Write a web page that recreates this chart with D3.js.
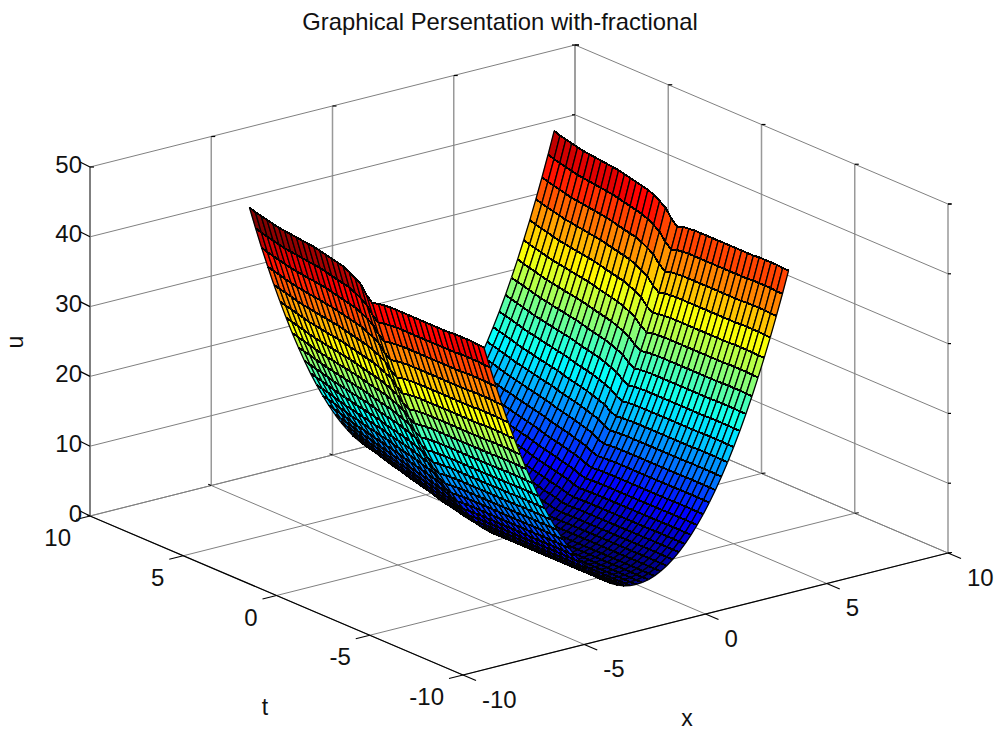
<!DOCTYPE html>
<html><head><meta charset="utf-8">
<script src="https://cdn.jsdelivr.net/npm/d3@7"></script>
<style>html,body{margin:0;background:#fff}text{font-family:"Liberation Sans",Arial,sans-serif;fill:#111}</style>
</head><body><svg id="c" width="1001" height="736"></svg>
<script>
// Tick labels
const xTicks=[-10,-5,0,5,10], tTicks=[-10,-5,0,5,10], zTicks=[0,10,20,30,40,50];
// Sample positions of the surface
const xLines=[-6.283,-6.032,-5.781,-5.529,-5.278,-5.027,-4.775,-4.524,-4.273,-4.021,-3.770,-3.519,-3.267,-3.016,-2.765,-2.513,-2.262,-2.011,-1.759,-1.508,-1.257,-1.005,-0.754,-0.503,-0.251,0,0.251,0.503,0.754,1.005,1.257,1.508,1.759,2.011,2.262,2.513,2.765,3.016,3.267,3.519,3.770,4.021,4.273,4.524,4.775,5.027,5.278,5.529,5.781,6.032,6.283];
const tLines=[-6.283,-5.969,-5.655,-5.341,-5.027,-4.712,-4.398,-4.084,-3.770,-3.456,-3.142,-2.827,-2.513,-2.199,-1.885,-1.571,-1.257,-0.942,-0.628,-0.314,0,0.314,0.628,0.942,1.257,1.571,1.885,2.199,2.513,2.827,3.142,3.456,3.770,4.084,4.398,4.712,5.027,5.341,5.655,5.969,6.283];
// u read along the front edge (t = -2pi), one value per x line
const frontEdgeU=[39.48,36.38,33.42,30.57,27.85,25.27,22.80,20.47,18.26,16.17,14.21,12.38,10.67,9.10,7.64,6.32,5.12,4.04,3.09,2.27,1.58,1.01,0.57,0.25,0.06,0,0.06,0.25,0.57,1.01,1.58,2.27,3.09,4.04,5.12,6.32,7.64,9.10,10.67,12.38,14.21,16.17,18.26,20.47,22.80,25.27,27.85,30.57,33.42,36.38,39.48];
// Rise of u above the front edge, read along the two rims and along the valley floor, one value per t line
const rimRise=[0,0,0.1,0.1,0.1,0.1,0,0,0,0,0,0,0,0,0,0,0,-0.1,-0.2,-0.5,0.3,1.5,2.1,2.6,3.0,3.2,3.4,3.6,3.8,4.0,4.1,4.2,4.3,4.4,4.5,4.6,4.8,5.0,5.2,5.4,5.7];
const valleyRise=[0,0,0,0,0,0,0,0,0,0,0,0,0,0,0,0,0,0,0,0,0,0.1,0.2,0.3,0.5,0.7,0.9,1.1,1.4,1.7,1.9,2.2,2.4,2.7,3.0,3.2,3.5,3.8,4.1,4.3,4.5];
// Share of the rim rise seen on each x line (1 at the rims, 0 on the valley floor)
const rimShare=[1,.94,.88,.83,.77,.72,.66,.61,.56,.51,.46,.42,.38,.33,.29,.25,.22,.18,.15,.12,.09,.06,.04,.02,.01,0,.01,.02,.04,.06,.09,.12,.15,.18,.22,.25,.29,.33,.38,.42,.46,.51,.56,.61,.66,.72,.77,.83,.88,.94,1];
const title="Graphical Persentation with-fractional";

const U=xLines.map((_,i)=>tLines.map((_,j)=>frontEdgeU[i]+valleyRise[j]+rimShare[i]*(rimRise[j]-valleyRise[j])));

const svg=d3.select("#c");
const aS=d3.scaleLinear().domain([-10,10]).range([0,1]);
const bS=d3.scaleLinear().domain([-10,10]).range([0,1]);
const zS=d3.scaleLinear().domain([0,50]).range([0,349]);
const O={x:463,y:675}, XV={x:485,y:-122}, TV={x:-373,y:-159};
const P=(x,t,z)=>{const a=aS(x),b=bS(t);return [O.x+XV.x*a+TV.x*b, O.y+XV.y*a+TV.y*b-zS(z)];};
const depth=(x,t,z)=>352*aS(x)+458*bS(t)-2.43*z;
const seg=(g,p,q,c,w)=>g.append("path").attr("d",d3.line()([p,q])).attr("stroke",c).attr("stroke-width",w).attr("fill","none");

// Grid on floor and walls
const grid=svg.append("g");
const GC="#808080";
xTicks.forEach(x=>{seg(grid,P(x,-10,0),P(x,10,0),GC,1);seg(grid,P(x,10,0),P(x,10,50),x==-10?"#000":"#999",x==-10?1:1.5);});
tTicks.forEach(t=>{seg(grid,P(-10,t,0),P(10,t,0),GC,1);seg(grid,P(10,t,0),P(10,t,50),"#999",1.5);});
zTicks.forEach(z=>{seg(grid,P(-10,10,z),P(10,10,z),GC,1);seg(grid,P(10,10,z),P(10,-10,z),GC,1);});

// Axes
const ax=svg.append("g");
seg(ax,P(-10,10,0),P(-10,-10,0),"#000",1.2);
seg(ax,P(-10,-10,0),P(10,-10,0),"#000",1.2);
const tick=(p,dx,dy)=>seg(ax,p,[p[0]+dx,p[1]+dy],"#000",1.2);
xTicks.forEach(x=>{tick(P(x,-10,0),13,5.5);tick(P(x,10,0),-3,-1.2);tick(P(x,10,50),4,0);});
tTicks.forEach(t=>{tick(P(-10,t,0),-14,3.5);tick(P(10,t,0),4,-.5);tick(P(10,t,50),4,0);});
zTicks.forEach(z=>{tick(P(-10,10,z),-10,-5);tick(P(10,-10,z),3,0);tick(P(10,10,z),-3,0);});

// Surface, far cells first
const umax=d3.max(U.flat());
const jet=d3.scaleLinear().domain([0,.125,.375,.625,.875,1]).range(["#000080","#0000ff","#00ffff","#ffff00","#ff0000","#800000"]);
const color=u=>jet(Math.min(63,Math.floor(u/umax*64))/63);
const cells=[];
for(let i=0;i<xLines.length-1;i++)for(let j=0;j<tLines.length-1;j++){
  const z=(U[i][j]+U[i+1][j]+U[i][j+1]+U[i+1][j+1])/4;
  cells.push({i,j,d:depth((xLines[i]+xLines[i+1])/2,(tLines[j]+tLines[j+1])/2,z)});
}
cells.sort((a,b)=>b.d-a.d);
const surf=svg.append("g");
const pt=(i,j)=>P(xLines[i],tLines[j],U[i][j]);
const ln=d3.line();
cells.forEach(({i,j})=>{
  const a=pt(i,j),b=pt(i+1,j),c=pt(i+1,j+1),d=pt(i,j+1);
  surf.append("path").attr("d",ln([a,b,c,d])+"Z").attr("fill",color(U[i][j])).attr("stroke",color(U[i][j])).attr("stroke-width",.3);
  surf.append("path").attr("d",ln([a,b])+ln([d,c])).attr("fill","none").attr("stroke","#000").attr("stroke-width",1.3);
  surf.append("path").attr("d",ln([a,d])+ln([b,c])).attr("fill","none").attr("stroke","#000").attr("stroke-width",2).attr("shape-rendering","crispEdges");
});

// Text
const label=(x,y,s,anchor,size=24)=>svg.append("text").attr("x",x).attr("y",y).attr("text-anchor",anchor).attr("dominant-baseline","central").attr("font-size",size).text(s);
zTicks.forEach(z=>{const p=P(-10,10,z);label(p[0]-8,p[1]-3,z,"end");});
tTicks.forEach(t=>{const p=P(-10,t,0);label(p[0]-19,p[1]+21.5,t,"end");});
xTicks.forEach(x=>{const p=P(x,-10,0);label(p[0]+19,p[1]+24,x,"start");});
label(500,21,title,"middle",23.8);
label(687,718,"x","middle",23);
label(265,707,"t","middle",23);
svg.append("text").attr("transform","translate(15,342) rotate(-90)").attr("text-anchor","middle").attr("dominant-baseline","central").attr("font-size",23).text("u");
</script></body></html>
